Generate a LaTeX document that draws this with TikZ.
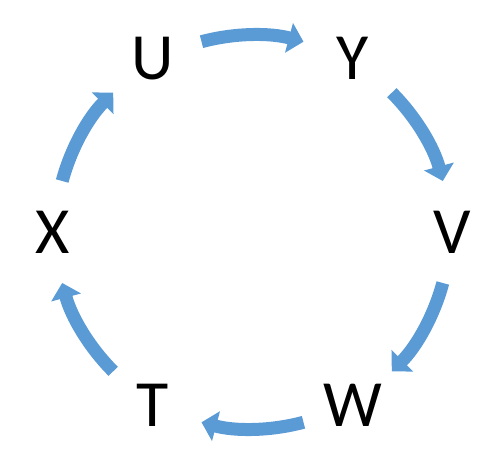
\documentclass[tikz,border=0pt]{standalone}
\usepackage{fontspec}
\setmainfont{Carlito}
\usetikzlibrary{arrows.meta}
\definecolor{arrowblue}{HTML}{5B9BD5}
\begin{document}
\begin{tikzpicture}[x=1pt,y=1pt,
  letter/.style={font=\fontsize{66}{70}\selectfont, inner sep=0pt},
  cyc/.style={draw=arrowblue, line width=13pt, line cap=butt,
    -{Triangle[width=30pt,length=15pt]}}]
\useasboundingbox (-252.5,-220) rectangle (228.5,232);
\coordinate (O) at (0,0);
\node[letter] (U) at (120:200) {U};
\node[letter] (Y) at (60:200) {Y};
\node[letter] (V) at (0:200) {V};
\node[letter] (W) at (-60:200) {W};
\node[letter] (T) at (-120:200) {T};
\node[letter] (X) at (180:200) {X};
\foreach \s in {105,45,-15,-75,-135,-195}{
  \draw[cyc] ([shift={(\s:197)}]O) arc[start angle=\s, end angle=\s-30, radius=197];
}
\end{tikzpicture}
\end{document}
